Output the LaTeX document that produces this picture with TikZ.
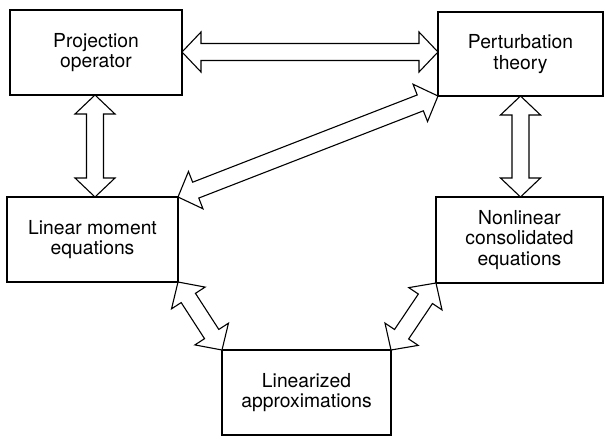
\documentclass[tikz,border=0pt]{standalone}
\usepackage{fontspec}
\setmainfont{TeX Gyre Heros}
\usetikzlibrary{calc}
\tikzset{
  box/.style={draw=black, line width=2pt, fill=white, rectangle, anchor=north west,
    outer sep=0pt, inner sep=0pt, align=center,
    font=\fontsize{19.3pt}{20.5pt}\selectfont},
  arr/.style={draw=black, line width=1.1pt, line join=miter, fill=white}
}
\newcommand\dblarrow[3]{%
  \coordinate (#3h1) at ($(#1)!19pt!(#2)$);
  \coordinate (#3h2) at ($(#2)!19pt!(#1)$);
  \draw[arr] (#1) -- ($(#3h1)!20pt!90:(#2)$) -- ($(#3h1)!8.5pt!90:(#2)$)
    -- ($(#3h2)!8.5pt!-90:(#1)$) -- ($(#3h2)!20pt!-90:(#1)$) -- (#2)
    -- ($(#3h2)!20pt!90:(#1)$) -- ($(#3h2)!8.5pt!90:(#1)$)
    -- ($(#3h1)!8.5pt!-90:(#2)$) -- ($(#3h1)!20pt!-90:(#2)$) -- cycle;
}
\begin{document}
\begin{tikzpicture}[x=1pt,y=-1pt]
\fill[white] (0,0) rectangle (606,437);
\useasboundingbox (0,0) rectangle (606,437);
\node[box, minimum width=172pt, minimum height=85pt] (po) at (10,10) {Projection\\operator};
\node[box, minimum width=165pt, minimum height=84pt] (pt) at (438,12) {Perturbation\\theory};
\node[box, minimum width=171pt, minimum height=85pt] (lm) at (7,197) {Linear moment\\equations};
\node[box, minimum width=167pt, minimum height=86pt] (nc) at (436,197) {Nonlinear\\consolidated\\equations};
\node[box, minimum width=169pt, minimum height=85pt] (la) at (222,350) {Linearized\\approximations};
\dblarrow{po.east |- 0,52}{pt.west |- 0,52}{ha}
\dblarrow{po.south -| 95,0}{lm.north -| 95,0}{va}
\dblarrow{lm.north east}{pt.south west}{da}
\dblarrow{pt.south}{nc.north -| pt.south}{vb}
\dblarrow{lm.south east}{la.north west}{dl}
\dblarrow{la.north east}{nc.south west}{dr}
\end{tikzpicture}
\end{document}
